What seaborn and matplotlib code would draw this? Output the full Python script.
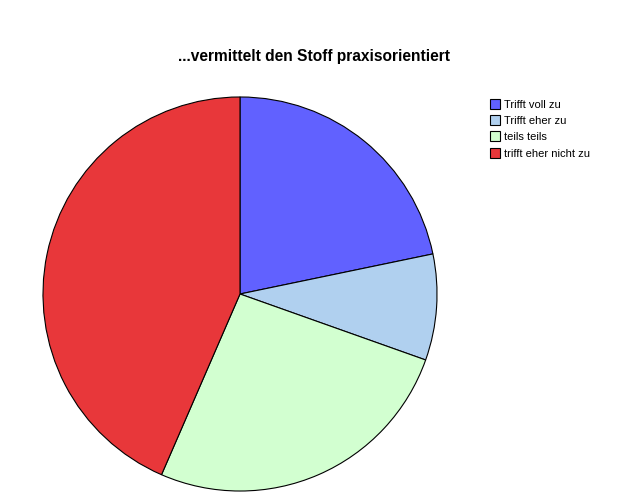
import matplotlib
matplotlib.use("Agg")
import matplotlib.pyplot as plt
import seaborn as sns

# Answer categories and counts
labels = ['Trifft voll zu', 'Trifft eher zu', 'teils teils', 'trifft eher nicht zu']
counts = [5, 2, 6, 10]
colors = ['#6161FF', '#B0D0EF', '#D2FFD0', '#E8373A']

sns.set_theme(style='white')
plt.rcParams['font.family'] = ['Liberation Sans', 'DejaVu Sans']
plt.rcParams['text.color'] = 'black'

fig = plt.figure(figsize=(6.24, 5.0), dpi=100)
fig.patch.set_facecolor('white')

# pie: centre ~ (240, 294) px, radius ~198 px
r = 198
ax = fig.add_axes([(240 - r) / 624, (500 - 294 - r) / 500, 2 * r / 624, 2 * r / 500])
wedges, _ = ax.pie(counts, colors=colors, startangle=90, counterclock=False,
                   radius=1, wedgeprops=dict(edgecolor='black', linewidth=0.8))
ax.set_xlim(-1.005, 1.005)
ax.set_ylim(-1.005, 1.005)
ax.set_aspect('equal')
ax.axis('off')

fig.text(314 / 624, 1 - 57 / 500, '...vermittelt den Stoff praxisorientiert',
         ha='center', va='center', fontsize=11.2, fontweight='bold', color='black')

leg = fig.legend(wedges, labels, loc='upper left', bbox_to_anchor=(482 / 624, 1 - 91 / 500),
                 frameon=False, fontsize=8, handlelength=0.95, handleheight=1.0,
                 handletextpad=0.35, labelspacing=0.5, borderpad=0.2)

fig.savefig('out.png', dpi=100)
